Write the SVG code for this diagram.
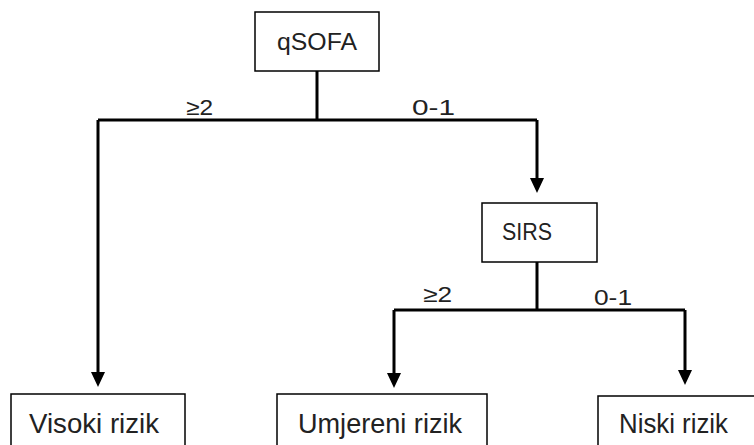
<svg xmlns="http://www.w3.org/2000/svg" width="754" height="445" viewBox="0 0 754 445">
<style>
.box{fill:#fff;stroke:#000;stroke-width:1.5}
.t{font-family:"Liberation Sans",Arial,sans-serif;fill:#222}
.c{fill:none;stroke:#000;stroke-width:3}
.a{fill:#000;stroke:none}
</style>
<rect width="754" height="445" fill="#fff"/>
<g id="connectors">
<path class="c" d="M317,71 V120 M98,120 H537 M98,120 V373 M537,120 V179"/>
<path class="c" d="M537,262 V310 M394,310 H685 M394,310 V374 M685,310 V371"/>
<polygon class="a" points="91,372 105,372 98,387"/>
<polygon class="a" points="530,178 544,178 537,193"/>
<polygon class="a" points="387,373 401,373 394,388"/>
<polygon class="a" points="678,370 692,370 685,385"/>
<text class="t" x="186" y="115" font-size="22" textLength="27" lengthAdjust="spacingAndGlyphs">≥2</text>
<text class="t" x="412" y="115" font-size="22" textLength="43" lengthAdjust="spacingAndGlyphs">0-1</text>
<text class="t" x="423" y="302" font-size="22" textLength="29" lengthAdjust="spacingAndGlyphs">≥2</text>
<text class="t" x="594" y="305" font-size="22" textLength="38" lengthAdjust="spacingAndGlyphs">0-1</text>
</g>
<g id="qsofa">
<rect class="box" x="255" y="12" width="124" height="59"/>
<text class="t" x="277" y="50" font-size="23" textLength="80" lengthAdjust="spacingAndGlyphs">qSOFA</text>
</g>
<g id="sirs">
<rect class="box" x="482" y="203" width="115" height="59"/>
<text class="t" x="502" y="240" font-size="23" textLength="50" lengthAdjust="spacingAndGlyphs">SIRS</text>
</g>
<g id="visoki">
<rect class="box" x="11" y="394" width="174" height="70"/>
<text class="t" x="29" y="433" font-size="27" textLength="130" lengthAdjust="spacingAndGlyphs">Visoki rizik</text>
</g>
<g id="umjereni">
<rect class="box" x="277" y="394" width="210" height="70"/>
<text class="t" x="298" y="433" font-size="27" textLength="164" lengthAdjust="spacingAndGlyphs">Umjereni rizik</text>
</g>
<g id="niski">
<rect class="box" x="598" y="396" width="170" height="70"/>
<text class="t" x="619" y="433" font-size="27" textLength="109" lengthAdjust="spacingAndGlyphs">Niski rizik</text>
</g>
</svg>
